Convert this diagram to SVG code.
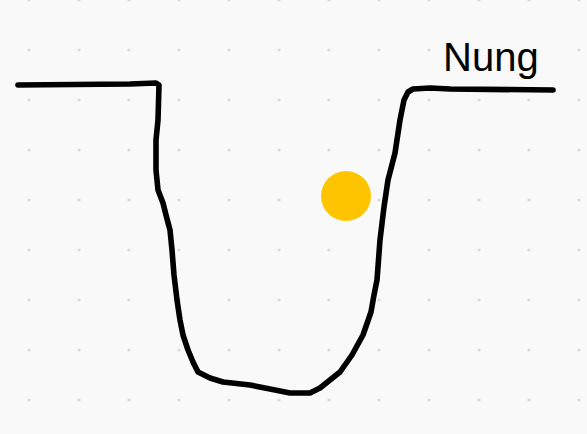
<svg xmlns="http://www.w3.org/2000/svg" width="587" height="434" viewBox="0 0 587 434">
  <defs>
    <pattern id="dots" patternUnits="userSpaceOnUse" x="4" y="-25" width="50" height="50">
      <circle cx="25" cy="25" r="1.6" fill="#dadada"/>
    </pattern>
    <style>
      .stroke { fill: none; stroke: #000; stroke-width: 5.6; stroke-linecap: round; stroke-linejoin: round; }
      .label { font-family: "Liberation Sans", Arial, sans-serif; font-size: 40px; fill: #000; }
    </style>
  </defs>
  <rect width="587" height="434" fill="#f9f9f9"/>
  <rect width="587" height="434" fill="url(#dots)"/>
  <path class="stroke" d="M18,85 L130,84 L156,83 L159,85 L158,120 L156,140 L156,170 L158,190 L163,203 L166,215 L170,230 L172,250 L174,275 L177,300 L180,320 L183,335 L188,350 L193,362 L198,372 L210,378 L223,382 L250,385 L270,389 L290,393 L310,393 L320,388 L330,380 L340,372 L352,355 L363,335 L371,312 L374,295 L377,280 L380,240 L384,207 L388,180 L395,153 L400,120 L404,100 L408,92 L413,89 L430,88 L450,89 L553,90"/>
  <circle cx="346" cy="196" r="25" fill="#ffc400"/>
  <text class="label" x="443" y="71">Nung</text>
</svg>
